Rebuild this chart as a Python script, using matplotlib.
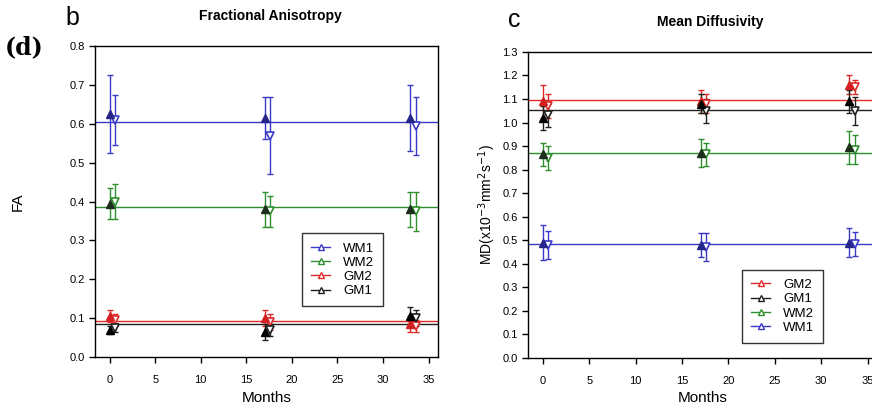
import numpy as np
import matplotlib
matplotlib.use("Agg")
from matplotlib import pyplot as plt

plt.rcParams["font.family"] = ["Liberation Sans", "DejaVu Sans"]

months = np.array([0, 17, 33])
off = 0.6  # open (down) triangles sit a little to the right

# Fractional anisotropy
fa_names = ["WM1", "WM2", "GM2", "GM1"]
fa_mean = [0.605, 0.385, 0.092, 0.085]
fa_fill = [[0.625, 0.615, 0.615], [0.395, 0.38, 0.38], [0.105, 0.10, 0.085], [0.07, 0.065, 0.105]]
fa_fill_err = [[0.10, 0.055, 0.085], [0.04, 0.045, 0.045], [0.015, 0.02, 0.02], [0.01, 0.02, 0.025]]
fa_open = [[0.61, 0.57, 0.595], [0.40, 0.375, 0.375], [0.095, 0.09, 0.08], [0.075, 0.07, 0.10]]
fa_open_err = [[0.065, 0.10, 0.075], [0.045, 0.04, 0.05], [0.015, 0.02, 0.015], [0.01, 0.015, 0.02]]

# Mean diffusivity
md_names = ["GM2", "GM1", "WM2", "WM1"]
md_mean = [1.095, 1.055, 0.87, 0.485]
md_fill = [[1.09, 1.09, 1.16], [1.02, 1.08, 1.09], [0.865, 0.87, 0.895], [0.49, 0.48, 0.49]]
md_fill_err = [[0.07, 0.05, 0.04], [0.05, 0.04, 0.05], [0.05, 0.06, 0.07], [0.075, 0.05, 0.06]]
md_open = [[1.07, 1.08, 1.15], [1.03, 1.05, 1.05], [0.85, 0.865, 0.885], [0.48, 0.47, 0.485]]
md_open_err = [[0.05, 0.04, 0.03], [0.05, 0.05, 0.06], [0.05, 0.05, 0.06], [0.06, 0.06, 0.05]]

colors = {"WM1": "#3a3ac8", "WM2": "#2f8f2f", "GM2": "#e02a2a", "GM1": "#202020"}
fill_colors = {"WM1": "#26268a", "WM2": "#1c2e1c", "GM2": "#d42020", "GM1": "#000000"}

fig = plt.figure(figsize=(8.72, 4.09), dpi=100)
ax1 = fig.add_axes([0.109, 0.127, 0.393, 0.76])
ax2 = fig.add_axes([0.6055, 0.125, 0.40, 0.748])


def draw(ax, names, mean, fill, fill_err, opn, opn_err):
    for i, nm in enumerate(names):
        c = colors[nm]
        ax.axhline(mean[i], color=c, lw=1.0, zorder=1)
        ax.errorbar(months, fill[i], yerr=fill_err[i], fmt="none", ecolor=c,
                    elinewidth=1.0, capsize=2, capthick=1.0, zorder=2)
        ax.errorbar(months + off, opn[i], yerr=opn_err[i], fmt="none", ecolor=c,
                    elinewidth=1.0, capsize=2, capthick=1.0, zorder=2)
        ax.plot(months, fill[i], "^", ms=6, color=fill_colors[nm], mec=fill_colors[nm],
                ls="none", zorder=4)
        ax.plot(months + off, opn[i], "v", ms=6, mfc="white", mec=c, mew=1.2,
                ls="none", zorder=3)
        # legend proxy
        ax.plot([], [], "-^", color=c, mfc="white", mec=c, ms=4.5, lw=1.0, label=nm)
    ax.set_xlim(-1.6, 36)
    ax.set_xticks(np.arange(0, 36, 5))
    ax.tick_params(labelsize=8, direction="out", length=4, width=1)
    ax.tick_params(axis="x", pad=9)
    for s in ax.spines.values():
        s.set_linewidth(1.0)
    ax.set_xlabel("Months", fontsize=11)
    ax.yaxis.set_major_formatter(matplotlib.ticker.FormatStrFormatter("%.1f"))


draw(ax1, fa_names, fa_mean, fa_fill, fa_fill_err, fa_open, fa_open_err)
ax1.set_ylim(0, 0.8)
ax1.set_yticks(np.arange(0, 0.81, 0.1))
ax1.set_ylabel("FA", fontsize=11)
ax1.yaxis.set_label_coords(-0.205, 0.5)
ax1.legend(loc="upper left", bbox_to_anchor=(0.585, 0.42), fontsize=9.5,
           handlelength=1.4, handletextpad=1.0, borderpad=0.7, labelspacing=0.15,
           fancybox=False, edgecolor="#333333", framealpha=1)

draw(ax2, md_names, md_mean, md_fill, md_fill_err, md_open, md_open_err)
ax2.set_ylim(0, 1.3)
ax2.set_yticks(np.arange(0, 1.31, 0.1))
ax2.set_ylabel(r"MD(x10$^{-3}$mm$^{2}$s$^{-1}$)", fontsize=10)
ax2.yaxis.set_label_coords(-0.085, 0.5)
ax2.legend(loc="upper left", bbox_to_anchor=(0.595, 0.31), fontsize=9.5,
           handlelength=1.4, handletextpad=1.0, borderpad=0.7, labelspacing=0.15,
           fancybox=False, edgecolor="#333333", framealpha=1)

fig.text(0.075, 0.955, "b", fontsize=18, ha="left", va="center")
fig.text(0.31, 0.96, "Fractional Anisotropy", fontsize=10, fontweight="bold",
         ha="center", va="center")
fig.text(0.005, 0.885, "(d)", fontsize=17, fontweight="bold", family="DejaVu Serif",
         ha="left", va="center")
fig.text(0.59, 0.95, "c", fontsize=18, ha="center", va="center")
fig.text(0.815, 0.945, "Mean Diffusivity", fontsize=10, fontweight="bold",
         ha="center", va="center")

fig.savefig("out.png", dpi=100)
